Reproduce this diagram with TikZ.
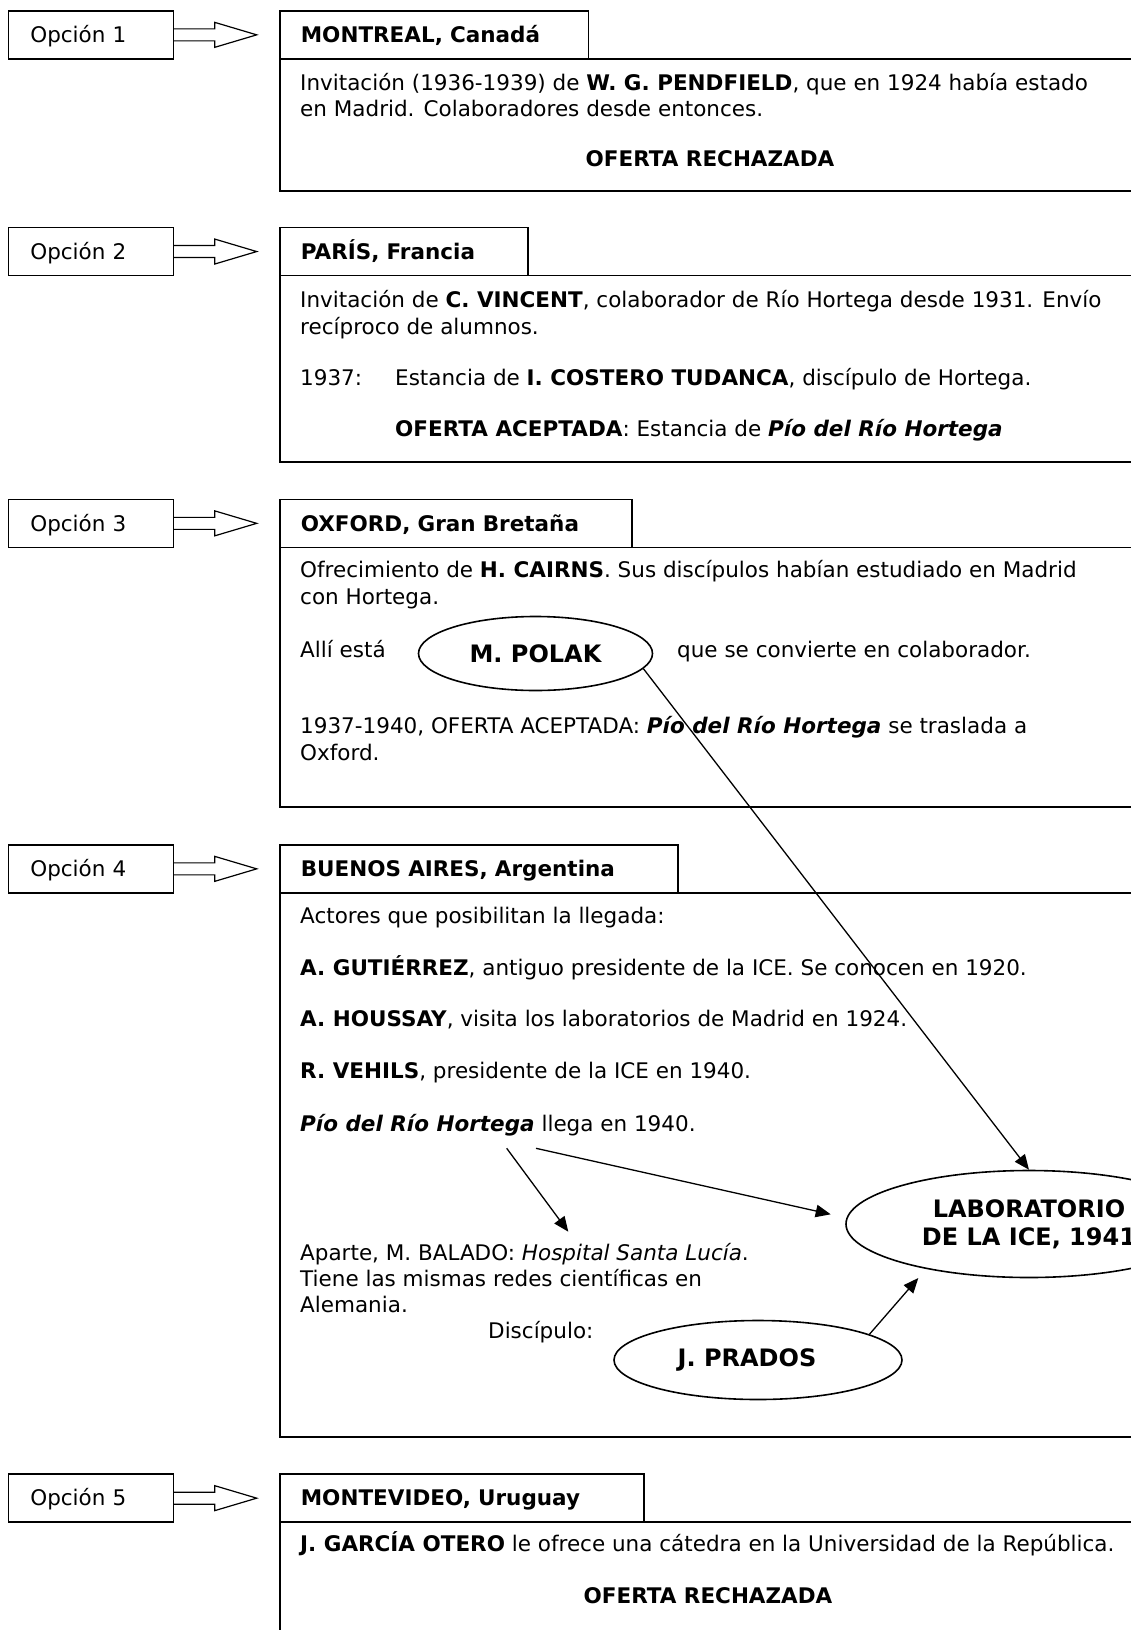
\documentclass[tikz,border=0pt]{standalone}
\usepackage{fontspec}
\setmainfont{DejaVu Sans}
\usetikzlibrary{arrows.meta,shapes.geometric,calc}
\newcommand\optarrow[1]{%
  \draw[blockarrow] ($(#1.east)+(0,-6)$) -- ++(40.5,0) -- ++(0,-6.5)
    -- ($(#1.east)+(82.5,0)$) -- ($(#1.east)+(40.5,12.5)$) -- ++(0,-6.5)
    -- ($(#1.east)+(0,6)$);}
\begin{document}
\begin{tikzpicture}[x=1pt,y=-1pt,
  frame/.style={draw,line width=1.7pt},
  optbox/.style={frame,anchor=north west,minimum height=48pt,inner xsep=22pt,inner ysep=0pt,
    text width=121pt,align=left,text height=18pt,text depth=2.6pt,font=\fontsize{21.5}{26}\selectfont},
  hdr/.style={frame,anchor=north west,minimum height=48pt,inner xsep=21pt,inner ysep=0pt,
    text width=#1,align=left,text height=18pt,text depth=2.6pt,font=\bfseries\fontsize{21.5}{26}\selectfont},
  bodybox/.style={frame,anchor=north west,inner sep=0pt},
  txt/.style={anchor=base west,inner sep=0pt,font=\fontsize{21.5}{26}\selectfont},
  ctxt/.style={anchor=base,inner sep=0pt,font=\bfseries\fontsize{21.5}{26}\selectfont},
  oval/.style={draw,ellipse,line width=1.6pt,inner sep=0pt,align=center,font=\bfseries\fontsize{24}{28.3}\selectfont},
  conn/.style={line width=1.3pt,-{Triangle[length=15pt,width=12.5pt]}},
  blockarrow/.style={draw,line width=1.2pt,line join=miter},
]
\useasboundingbox (0,0) rectangle (1131,1630);
\clip (0,0) rectangle (1131,1630);

% ---------- Opcion 1 ----------
\node[optbox] (o1) at (7.5,10) {Opción 1};
\node[hdr=266.5pt] (h1) at (279,10) {\mbox{MONTREAL, Canadá}};
\node[bodybox,minimum width=880pt,minimum height=132pt] (b1) at (279,58) {};
\optarrow{o1}
\node[txt] (t1a) at (300,90.7) {Invitación (1936-1939) de \textbf{W. G. PENDFIELD}, que en 1924 había estado};
\node[txt] (t1b) at (300,116.7) {en Madrid. Colaboradores desde entonces.};
\node[ctxt] (t1c) at (710,166.7) {OFERTA RECHAZADA};

% ---------- Opcion 2 ----------
\node[optbox] (o2) at (7.5,226.7) {Opción 2};
\node[hdr=206pt] (h2) at (279,226.7) {\mbox{PARÍS, Francia}};
\node[bodybox,minimum width=880pt,minimum height=186.7pt] (b2) at (279,274.7) {};
\optarrow{o2}
\node[txt] (t2a) at (300,307.3) {Invitación de \textbf{C. VINCENT}, colaborador de Río Hortega desde 1931. Envío};
\node[txt] (t2b) at (300,334) {recíproco de alumnos.};
\node[txt] (t2c) at (300,385) {1937:};
\node[txt] (t2d) at (395,385) {Estancia de \textbf{I. COSTERO TUDANCA}, discípulo de Hortega.};
\node[txt] (t2e) at (395,436) {\textbf{OFERTA ACEPTADA}: Estancia de \textbf{\itshape Pío del Río Hortega}};

% ---------- Opcion 3 ----------
\node[optbox] (o3) at (7.5,498.5) {Opción 3};
\node[hdr=310pt] (h3) at (279,498.5) {\mbox{OXFORD, Gran Bretaña}};
\node[bodybox,minimum width=880pt,minimum height=259.5pt] (b3) at (279,546.5) {};
\optarrow{o3}
\node[txt] (t3a) at (300,577.5) {Ofrecimiento de \textbf{H. CAIRNS}. Sus discípulos habían estudiado en Madrid};
\node[txt] (t3b) at (300,604) {con Hortega.};
\node[txt] (t3c) at (300,657.5) {Allí está};
\node[oval,minimum width=234pt,minimum height=74pt] (polak) at (535.5,653.5) {M. POLAK};
\node[txt] (t3d) at (677,657.5) {que se convierte en colaborador.};
\node[txt] (t3e) at (300,733.5) {1937-1940, OFERTA ACEPTADA: \textbf{\itshape Pío del Río Hortega} se traslada a};
\node[txt] (t3f) at (300,760) {Oxford.};

% ---------- Opcion 4 ----------
\node[optbox] (o4) at (7.5,844) {Opción 4};
\node[hdr=356pt] (h4) at (279,844) {\mbox{BUENOS AIRES, Argentina}};
\node[bodybox,minimum width=880pt,minimum height=544pt] (b4) at (279,892) {};
\optarrow{o4}
\node[txt] (t4a) at (300,923.3) {Actores que posibilitan la llegada:};
\node[txt] (t4b) at (300,975) {\textbf{A. GUTIÉRREZ}, antiguo presidente de la ICE. Se conocen en 1920.};
\node[txt] (t4c) at (300,1026.7) {\textbf{A. HOUSSAY}, visita los laboratorios de Madrid en 1924.};
\node[txt] (t4d) at (300,1078.3) {\textbf{R. VEHILS}, presidente de la ICE en 1940.};
\node[txt] (t4e) at (300,1131.7) {\textbf{\itshape Pío del Río Hortega} llega en 1940.};
\node[txt] (t4f) at (300,1260) {Aparte, M. BALADO: \textit{Hospital Santa Lucía}.};
\node[txt] (t4g) at (300,1286.7) {Tiene las mismas redes científicas en};
\node[txt] (t4h) at (300,1312.7) {Alemania.};
\node[txt] (t4i) at (488,1338.3) {Discípulo:};
\node[oval,minimum width=366pt,minimum height=107pt] (lab) at (1029,1224) {LABORATORIO\\DE LA ICE, 1941};
\node[oval,minimum width=288pt,minimum height=79pt] (prados) at (758,1360) {J. PRADOS\hspace*{22pt}};

\coordinate (pioA) at (506.7,1148.3);
\coordinate (baladoTip) at (568.3,1231.7);
\coordinate (pioB) at (536,1148.3);
\coordinate (labTipA) at (830.7,1214.3);
\coordinate (labTipB) at (918.3,1278);
\draw[conn] (polak.-8) -- (lab.north);
\draw[conn] (pioA) -- (baladoTip);
\draw[conn] (pioB) -- (labTipA);
\draw[conn] (prados.13) -- (labTipB);

% ---------- Opcion 5 ----------
\node[optbox] (o5) at (7.5,1473.3) {Opción 5};
\node[hdr=322pt] (h5) at (279,1473.3) {\mbox{MONTEVIDEO, Uruguay}};
\node[bodybox,minimum width=880pt,minimum height=190pt] (b5) at (279,1521.3) {};
\optarrow{o5}
\node[txt] (t5a) at (300,1551.7) {\textbf{J. GARCÍA OTERO} le ofrece una cátedra en la Universidad de la República.};
\node[ctxt] (t5b) at (708,1603.3) {OFERTA RECHAZADA};
\end{tikzpicture}
\end{document}
